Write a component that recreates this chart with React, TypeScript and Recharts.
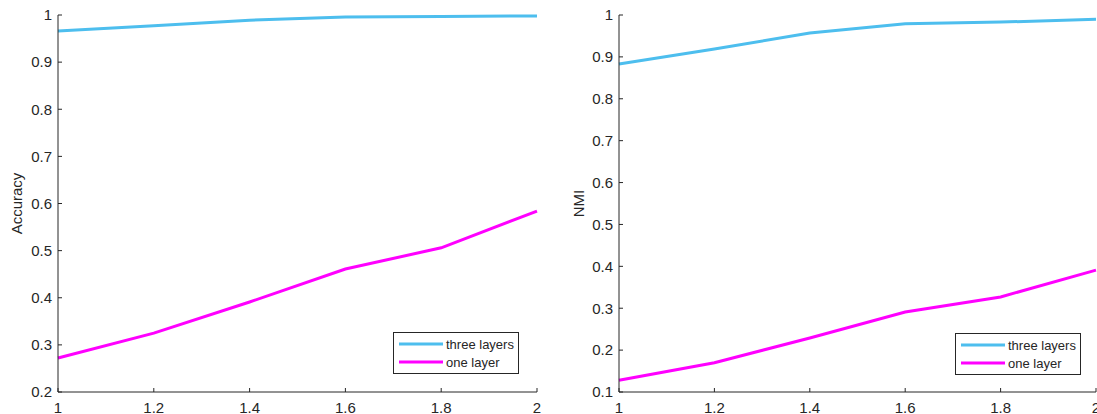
import { LineChart, Line, XAxis, YAxis, Legend } from 'recharts';

const xValues = [1, 1.2, 1.4, 1.6, 1.8, 2];
const accThree = [0.966, 0.977, 0.989, 0.996, 0.997, 0.998];
const accOne = [0.272, 0.325, 0.391, 0.461, 0.506, 0.584];
const nmiThree = [0.883, 0.919, 0.957, 0.979, 0.983, 0.99];
const nmiOne = [0.128, 0.17, 0.229, 0.291, 0.327, 0.391];

const xTicks = [1, 1.2, 1.4, 1.6, 1.8, 2];
const accTicks = [0.2, 0.3, 0.4, 0.5, 0.6, 0.7, 0.8, 0.9, 1];
const nmiTicks = [0.1, 0.2, 0.3, 0.4, 0.5, 0.6, 0.7, 0.8, 0.9, 1];

const seriesNames = ['three layers', 'one layer'];
const colors = ['#4DBEEE', '#FF00FF'];

const AXIS = '#262626';
const FONT = '"Liberation Sans", Arial, Helvetica, sans-serif';

function LegendBox() {
  return (
    <div
      style={{
        width: 124,
        height: 38,
        border: `1px solid ${AXIS}`,
        background: '#fff',
        fontFamily: FONT,
        fontSize: 13,
        color: AXIS,
        boxSizing: 'content-box',
        paddingTop: 2,
      }}
    >
      {seriesNames.map((name, i) => (
        <div key={name} style={{ display: 'flex', alignItems: 'center', height: 18 }}>
          <svg width={52} height={18}>
            <line x1={5} y1={9} x2={49} y2={9} stroke={colors[i]} strokeWidth={3} />
          </svg>
          <span>{name}</span>
        </div>
      ))}
    </div>
  );
}

interface PanelProps {
  three: number[];
  one: number[];
  yTicks: number[];
  yLabel: string;
  axisWidth: number;
  rightMargin: number;
  labelDx: number;
  width: number;
  legendLeft: number;
  legendTop: number;
}

function Panel({ three, one, yTicks, yLabel, axisWidth, rightMargin, labelDx, width, legendLeft, legendTop }: PanelProps) {
  const data = xValues.map((x, i) => ({ x, three: three[i], one: one[i] }));
  const domain = [yTicks[0], 1];
  return (
    <LineChart
      width={width}
      height={414}
      data={data}
      margin={{ top: 15, right: rightMargin, bottom: 0, left: 0 }}
    >
      <XAxis
        dataKey="x"
        type="number"
        domain={[1, 2]}
        ticks={xTicks}
        height={22}
        stroke={AXIS}
        tickSize={-4}
        tickMargin={14}
        tick={{ fill: AXIS, fontSize: 15, fontFamily: FONT }}
        interval={0}
      />
      <XAxis
        xAxisId="top"
        orientation="top"
        dataKey="x"
        type="number"
        domain={[1, 2]}
        ticks={xTicks}
        height={0}
        stroke={AXIS}
        tickSize={-4}
        tick={false}
      />
      <YAxis
        type="number"
        domain={domain}
        ticks={yTicks}
        width={axisWidth}
        stroke={AXIS}
        tickSize={-4}
        tickMargin={10}
        tick={{ fill: AXIS, fontSize: 15, fontFamily: FONT }}
        interval={0}
        label={{
          value: yLabel,
          angle: -90,
          position: 'center',
          dx: labelDx,
          fill: AXIS,
          fontSize: 15,
          fontFamily: FONT,
        }}
      />
      <YAxis
        yAxisId="right"
        orientation="right"
        type="number"
        domain={domain}
        ticks={yTicks}
        width={0}
        stroke={AXIS}
        tickSize={-4}
        tick={false}
      />
      <Legend
        layout="horizontal"
        verticalAlign="middle"
        wrapperStyle={{ left: legendLeft, top: legendTop, width: 'auto' }}
        content={() => <LegendBox />}
      />
      <Line
        type="linear"
        dataKey="three"
        name={seriesNames[0]}
        stroke={colors[0]}
        strokeWidth={3}
        dot={false}
        isAnimationActive={false}
      />
      <Line
        type="linear"
        dataKey="one"
        name={seriesNames[1]}
        stroke={colors[1]}
        strokeWidth={3}
        dot={false}
        isAnimationActive={false}
      />
    </LineChart>
  );
}

export default function App() {
  return (
    <div
      style={{
        position: 'absolute',
        left: 0,
        top: 0,
        width: 1097,
        height: 414,
        background: '#fff',
        overflow: 'hidden',
      }}
    >
      <div style={{ position: 'absolute', left: 0, top: 0 }}>
        <Panel
          three={accThree}
          one={accOne}
          yTicks={accTicks}
          yLabel="Accuracy"
          axisWidth={58}
          rightMargin={11}
          labelDx={-12}
          width={548}
          legendLeft={393}
          legendTop={332}
        />
      </div>
      <div style={{ position: 'absolute', left: 548, top: 0 }}>
        <Panel
          three={nmiThree}
          one={nmiOne}
          yTicks={nmiTicks}
          yLabel="NMI"
          axisWidth={71}
          rightMargin={1}
          labelDx={-5}
          width={549}
          legendLeft={407}
          legendTop={333}
        />
      </div>
    </div>
  );
}
